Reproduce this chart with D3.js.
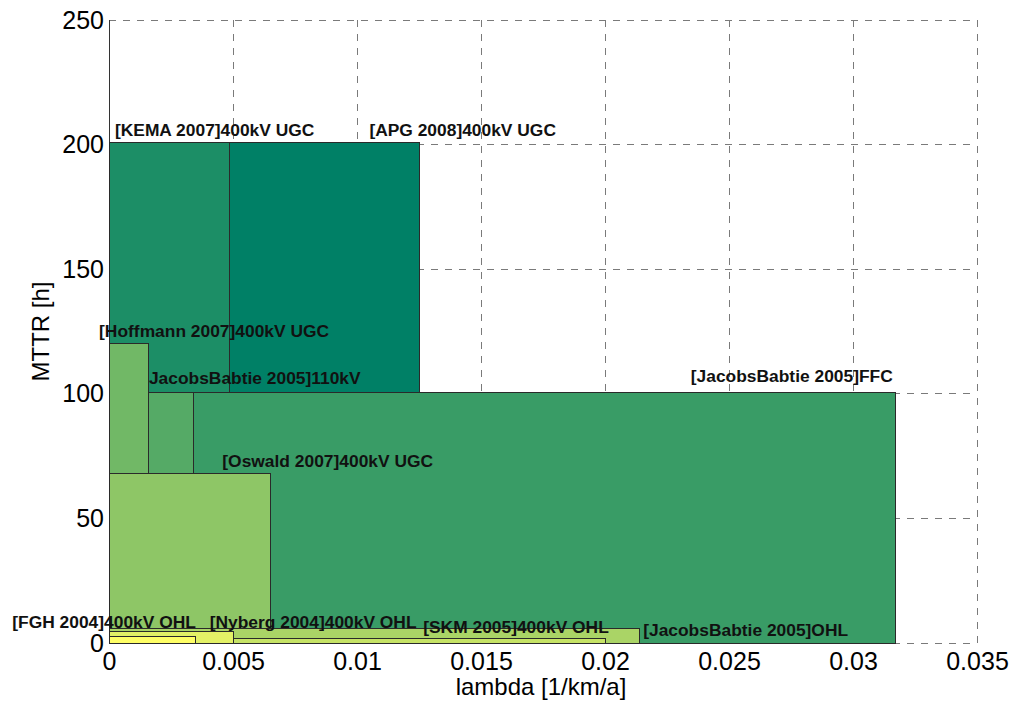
<!DOCTYPE html>
<html><head><meta charset="utf-8">
<script src="https://cdn.jsdelivr.net/npm/d3@7/dist/d3.min.js"></script>
<style>body{margin:0;background:#fff}svg{display:block}</style></head>
<body><svg id="c" width="1010" height="702"></svg>
<script>
// ---- data (drawing order) ----
const studies = ["[APG 2008]400kV UGC", "[KEMA 2007]400kV UGC", "[JacobsBabtie 2005]FFC",
  "JacobsBabtie 2005]110kV", "[Hoffmann 2007]400kV UGC", "[Oswald 2007]400kV UGC",
  "[JacobsBabtie 2005]OHL", "[SKM 2005]400kV OHL", "[Nyberg 2004]400kV OHL", "[FGH 2004]400kV OHL"];
const lambdaMax = [0.0125, 0.00485, 0.0317, 0.0034, 0.0016, 0.0065, 0.0214, 0.0200, 0.0050, 0.0035];
const mttr = [201, 201, 100.6, 100.6, 120.3, 68.2, 5.7, 1.8, 4.8, 2.7];
const labelLambda = [0.0105, 0.00024, 0.02346, 0.00161, -0.0004, 0.00457, 0.02154, 0.01267, 0.00406, -0.0039];
const labelMttr = [203.4, 203.4, 104.9, 103.9, 122.8, 70.6, 2.9, 3.9, 6.1, 6.1];
const xTicks = [0, 0.005, 0.01, 0.015, 0.02, 0.025, 0.03, 0.035];
const xTickLabels = ["0", "0.005", "0.01", "0.015", "0.02", "0.025", "0.03", "0.035"];
const yTicks = [0, 50, 100, 150, 200, 250];
const yTickLabels = ["0", "50", "100", "150", "200", "250"];
const xTitle = "lambda [1/km/a]";
const yTitle = "MTTR [h]";

// ---- layout ----
const L = 109, R = 977, T = 20, B = 643;
const svg = d3.select("#c");
const x = d3.scaleLinear().domain([0, 0.035]).range([L, R]);
const y = d3.scaleLinear().domain([0, 250]).range([B, T]);
// MATLAB "summer" colormap
const summer = t => d3.rgb(255 * t, 255 * (0.5 + 0.5 * t), 255 * 0.4);
const n = studies.length;

// grid
const grid = svg.append("g").attr("stroke", "#7a7a7a").attr("stroke-width", 1)
  .attr("stroke-dasharray", "7,7").attr("shape-rendering", "crispEdges");
grid.selectAll("line.v").data(xTicks.slice(1)).join("line").attr("class", "v")
  .attr("x1", d => x(d)).attr("x2", d => x(d)).attr("y1", T).attr("y2", B);
grid.selectAll("line.h").data(yTicks).join("line").attr("class", "h")
  .attr("x1", L).attr("x2", R).attr("y1", d => y(d)).attr("y2", d => y(d));

// left axis line
svg.append("line").attr("x1", L).attr("x2", L).attr("y1", T).attr("y2", B)
  .attr("stroke", "#333").attr("shape-rendering", "crispEdges");

// rectangles
svg.append("g").selectAll("rect").data(d3.range(n)).join("rect")
  .attr("x", x(0)).attr("y", i => y(mttr[i]))
  .attr("width", i => x(lambdaMax[i]) - x(0))
  .attr("height", i => y(0) - y(mttr[i]))
  .attr("fill", i => summer(i / (n - 1)))
  .attr("stroke", "#2a2a2a").attr("stroke-width", 1).attr("shape-rendering", "crispEdges");

// labels
svg.append("g").attr("font-family", "'Liberation Sans', Arial, sans-serif")
  .attr("font-weight", "bold").attr("font-size", 17.4).attr("fill", "#111")
  .selectAll("text").data(d3.range(n)).join("text")
  .attr("x", i => x(labelLambda[i])).attr("y", i => y(labelMttr[i]))
  .text(i => studies[i]);

// x axis tick labels
const xa = d3.axisBottom(x).tickValues(xTicks).tickFormat((d, i) => xTickLabels[i])
  .tickSize(0).tickPadding(9);
const gx = svg.append("g").attr("transform", `translate(0,${B})`).call(xa);
gx.select(".domain").remove();
gx.selectAll("text").attr("font-family", "'Liberation Sans', Arial, sans-serif")
  .attr("font-size", 25).attr("fill", "#000");

// y axis tick labels
const ya = d3.axisLeft(y).tickValues(yTicks).tickFormat((d, i) => yTickLabels[i])
  .tickSize(0).tickPadding(5);
const gy = svg.append("g").attr("transform", `translate(${L},0)`).call(ya);
gy.select(".domain").remove();
gy.selectAll("text").attr("font-family", "'Liberation Sans', Arial, sans-serif")
  .attr("font-size", 25).attr("fill", "#000");

// axis titles
svg.append("text").attr("x", (L + R) / 2 - 2).attr("y", 695).attr("text-anchor", "middle")
  .attr("font-family", "'Liberation Sans', Arial, sans-serif").attr("font-size", 24)
  .text(xTitle);
svg.append("text").attr("transform", `translate(49,${(T + B) / 2}) rotate(-90)`)
  .attr("text-anchor", "middle")
  .attr("font-family", "'Liberation Sans', Arial, sans-serif").attr("font-size", 24)
  .text(yTitle);
</script></body></html>
